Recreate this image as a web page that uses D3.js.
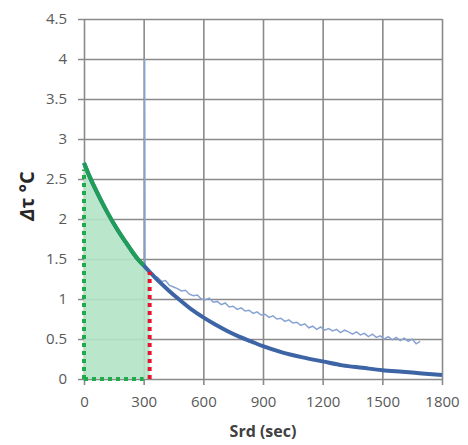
<!DOCTYPE html>
<html>
<head>
<meta charset="utf-8">
<script src="https://cdn.jsdelivr.net/npm/d3@7"></script>
<style>
body { margin: 0; background: #fff; }
svg { display: block; }
.grid line { stroke: #8a8a8a; stroke-width: 1.6px; }
.tick text { fill: #595959; font-family: 'Open Sans', sans-serif; font-size: 15px; }
</style>
</head>
<body>
<svg id="chart"></svg>
<script>
'use strict';
//Axis ticks.
const xTicks = [0, 300, 600, 900, 1200, 1500, 1800];
const yTicks = [0, 0.5, 1, 1.5, 2, 2.5, 3, 3.5, 4, 4.5];
//Fitted decay curve (thick blue).
const fitT = [0, 30, 60, 90, 120, 150, 180, 210, 240, 270, 300, 330, 360, 420, 480, 540, 600, 660, 720, 780, 840, 900, 1000, 1100, 1200, 1300, 1400, 1500, 1600, 1700, 1800];
const fitY = [2.70, 2.52, 2.36, 2.21, 2.07, 1.94, 1.82, 1.71, 1.60, 1.50, 1.42, 1.34, 1.26, 1.12, 0.99, 0.87, 0.77, 0.68, 0.60, 0.53, 0.47, 0.41, 0.33, 0.27, 0.22, 0.17, 0.14, 0.11, 0.09, 0.07, 0.05];
//Measured trace (thin light blue).
const measT = [305, 307, 310, 330, 350, 370, 390, 410, 430, 450, 470, 490, 510, 530, 550, 570, 590, 610, 630, 650, 670, 690, 710, 730, 750, 770, 790, 810, 830, 850, 870, 890, 910, 930, 950, 970, 990, 1010, 1030, 1050, 1070, 1090, 1110, 1130, 1150, 1170, 1190, 1210, 1230, 1250, 1270, 1290, 1310, 1330, 1350, 1370, 1390, 1410, 1430, 1450, 1470, 1490, 1510, 1530, 1550, 1570, 1590, 1610, 1630, 1650, 1670, 1690];
const measY = [4.0, 1.42, 1.38, 1.34, 1.29, 1.27, 1.22, 1.23, 1.17, 1.15, 1.13, 1.10, 1.11, 1.06, 1.04, 1.05, 1.00, 0.99, 1.01, 0.96, 0.97, 0.93, 0.95, 0.90, 0.91, 0.87, 0.89, 0.85, 0.86, 0.82, 0.84, 0.80, 0.81, 0.77, 0.79, 0.75, 0.76, 0.72, 0.74, 0.70, 0.71, 0.67, 0.69, 0.64, 0.66, 0.62, 0.65, 0.61, 0.63, 0.60, 0.62, 0.58, 0.61, 0.59, 0.56, 0.59, 0.55, 0.57, 0.53, 0.56, 0.52, 0.54, 0.50, 0.53, 0.49, 0.52, 0.48, 0.51, 0.47, 0.50, 0.44, 0.47];
//Shaded interval.
const greenEnd = 300; //End of green fitted part.
const cutT = 330; //Red dotted cut.

const W = 468, H = 445;
const m = {left: 84, top: 19, right: 26, bottom: 66};
const w = W - m.left - m.right;
const h = H - m.top - m.bottom;

const svg = d3.select('#chart').attr('width', W).attr('height', H);
const g = svg.append('g').attr('transform', `translate(${m.left},${m.top})`);

const x = d3.scaleLinear().domain([0, 1800]).range([0, w]);
const y = d3.scaleLinear().domain([0, 4.5]).range([h, 0]);

//Grid + axes. Gridlines are the tick lines stretched across the plot.
const gy = g.append('g').attr('class', 'grid')
	.call(d3.axisLeft(y).tickValues(yTicks).tickSize(-w).tickPadding(17)
		.tickFormat(d => d));
gy.selectAll('.tick line').attr('x1', -6);
gy.select('.domain').remove();

const gx = g.append('g').attr('class', 'grid')
	.attr('transform', `translate(0,${h})`)
	.call(d3.axisBottom(x).tickValues(xTicks).tickSize(-h).tickPadding(17)
		.tickFormat(d => d));
gx.selectAll('.tick line').attr('y1', 6);
gx.select('.domain').remove();

//Green shaded area under the curve up to the cut.
const fitPts = fitT.map((t, i) => [t, fitY[i]]);
const areaPts = fitPts.filter(p => p[0] <= cutT);
g.append('path')
	.datum(areaPts)
	.attr('d', d3.area().x(d => x(d[0])).y0(y(0)).y1(d => y(d[1])))
	.style('fill', '#b3e4c6')
	.style('opacity', 0.9);

const line = d3.line().x(d => x(d[0])).y(d => y(d[1]));

//Measured trace.
g.append('path')
	.datum(measT.map((t, i) => [t, measY[i]]))
	.attr('d', line)
	.style('fill', 'none')
	.style('stroke', '#88a3d2')
	.style('stroke-width', '1.5px');

//Fitted curve.
g.append('path')
	.datum(fitPts)
	.attr('d', d3.line().curve(d3.curveMonotoneX).x(d => x(d[0])).y(d => y(d[1])))
	.style('fill', 'none')
	.style('stroke', '#3d65a6')
	.style('stroke-width', '4px');

//Green part of the curve.
g.append('path')
	.datum(fitPts.filter(p => p[0] <= greenEnd))
	.attr('d', d3.line().curve(d3.curveMonotoneX).x(d => x(d[0])).y(d => y(d[1])))
	.style('fill', 'none')
	.style('stroke', '#1f9e58')
	.style('stroke-width', '4px');

//Dotted outline of the shaded part.
const dot = (x1, y1, x2, y2, col) => g.append('line')
	.attr('x1', x(x1)).attr('y1', y(y1))
	.attr('x2', x(x2)).attr('y2', y(y2))
	.style('stroke', col)
	.style('stroke-width', '4px')
	.style('stroke-dasharray', '4 4');
dot(0, 0, 0, fitY[0] - 0.08, '#1faa4c');
dot(0, 0, greenEnd, 0, '#1faa4c');
dot(cutT, 0, cutT, fitY[fitT.indexOf(cutT)], '#e8162c');

//Axis titles.
svg.append('text')
	.attr('x', m.left + w / 2)
	.attr('y', 437)
	.attr('text-anchor', 'middle')
	.style('font-family', "'Open Sans', sans-serif")
	.style('font-weight', 'bold')
	.style('font-size', '16px')
	.style('fill', '#404040')
	.text('Srd (sec)');

const yl = svg.append('text')
	.attr('transform', 'translate(34,196) rotate(-90)')
	.attr('text-anchor', 'middle')
	.style('font-family', "'Open Sans', sans-serif")
	.style('font-weight', 'bold')
	.style('font-size', '20px')
	.style('fill', '#262626');
yl.append('tspan').style('font-style', 'italic').text('Δ');
yl.append('tspan').text('τ °C');
</script>
</body>
</html>
